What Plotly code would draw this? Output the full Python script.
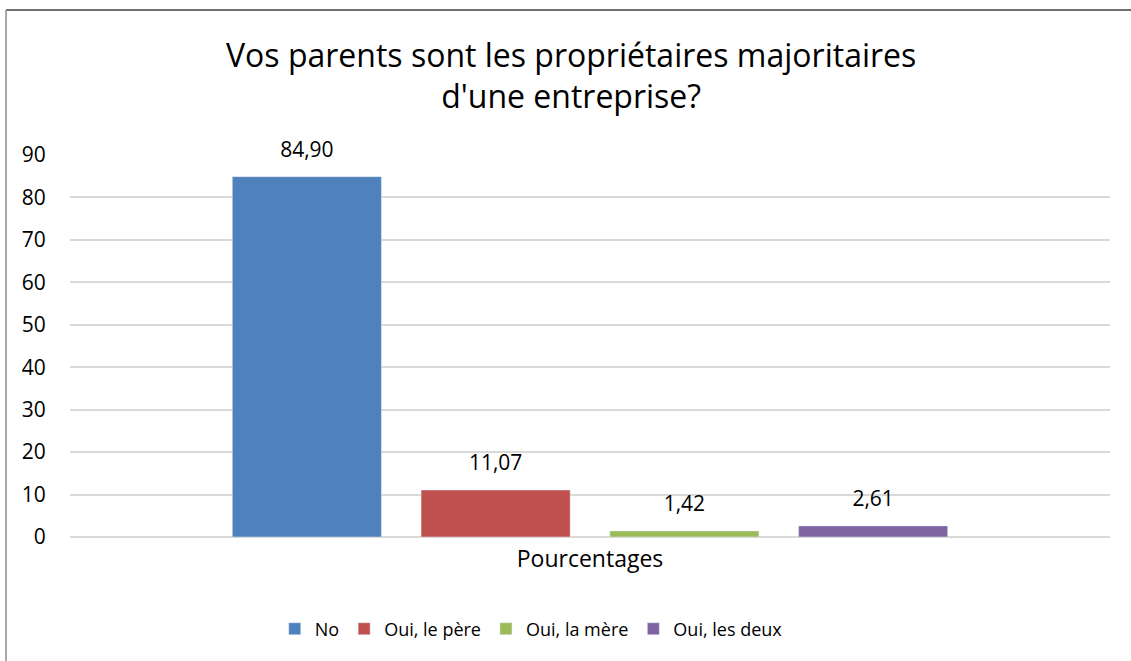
import plotly.graph_objects as go

category = ["Pourcentages"]
series_names = ["No", "Oui, le père", "Oui, la mère", "Oui, les deux"]
series_values = [84.90, 11.07, 1.42, 2.61]
colors = ["#4F81BD", "#C0504D", "#9BBB59", "#8064A2"]
y_ticks = [0, 10, 20, 30, 40, 50, 60, 70, 80, 90]

fig = go.Figure()
for name, val, col in zip(series_names, series_values, colors):
    fig.add_trace(go.Bar(
        x=category, y=[val], name=name, marker_color=col,
    ))
# data labels, grouped at the same positions as the bars
for name, val in zip(series_names, series_values):
    fig.add_trace(go.Scatter(
        x=category, y=[val], mode="markers+text", showlegend=False, hoverinfo="skip",
        marker=dict(size=22, opacity=0), text=[val], texttemplate="%{y:.2f}",
        textposition="top center", textfont=dict(size=21, color="#000000"), cliponaxis=False,
    ))

fig.update_layout(
    width=1131, height=661,
    separators=", ",
    paper_bgcolor="white", plot_bgcolor="white",
    margin=dict(l=70, r=21, t=155, b=124),
    font=dict(family="Open Sans, Noto Sans, sans-serif", color="#000000"),
    title=dict(text="Vos parents sont les propriétaires majoritaires<br>d'une entreprise?",
               x=0.505, xanchor="center", y=0.899, yanchor="top",
               font=dict(size=32, color="#000000")),
    barmode="group", bargap=0.274, bargroupgap=0.21,
    scattermode="group", scattergap=0.274,
    showlegend=True,
    legend=dict(orientation="h", x=0.4435, xanchor="center", y=-0.241, yanchor="middle",
                font=dict(size=18), traceorder="normal", itemwidth=30),
    xaxis=dict(showgrid=False, showline=False, ticks="outside", ticklen=1,
               tickcolor="rgba(0,0,0,0)", tickfont=dict(size=23)),
    yaxis=dict(range=[0, 90], tickvals=y_ticks, showgrid=True, gridcolor="#d9d9d9",
               gridwidth=1.5, zeroline=True, zerolinecolor="#d9d9d9", zerolinewidth=1.5,
               tickfont=dict(size=21), ticks="outside", ticklen=19,
               tickcolor="rgba(0,0,0,0)"),
    shapes=[
        dict(type="line", xref="paper", yref="paper", x0=-0.0615, x1=1.05, y0=1.3796, y1=1.3796,
             line=dict(color="#404040", width=1.5)),
        dict(type="line", xref="paper", yref="paper", x0=-0.0615, x1=-0.0615, y0=1.3796, y1=-0.4,
             line=dict(color="#8c8c8c", width=1.5)),
    ],
)
fig.write_html("out.html", config={"displayModeBar": False},
               post_script="document.body.style.margin='0';")
